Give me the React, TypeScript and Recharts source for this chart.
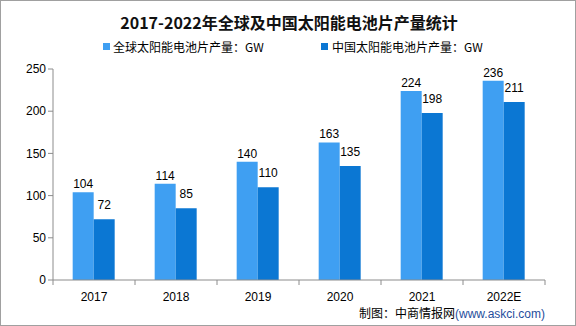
import { Bar, BarChart, LabelList, XAxis, YAxis } from "recharts";

const years = ["2017", "2018", "2019", "2020", "2021", "2022E"];
const globalOutput = [104, 114, 140, 163, 224, 236];
const chinaOutput = [72, 85, 110, 135, 198, 211];
const yTicks = [0, 50, 100, 150, 200, 250];

const data = years.map((year, i) => ({
  year,
  global: globalOutput[i],
  china: chinaOutput[i],
}));

const W = 576;
const H = 326;
const MARGIN = { top: 69, right: 31, left: 0, bottom: 0 };
const Y_AXIS_W = 53;
const BAND = (W - MARGIN.left - MARGIN.right - Y_AXIS_W) / years.length;

const LIGHT = "#3f9ff2";
const DARK = "#0b77d3";
const AXIS = "#8c8c8c";
const NUM_FONT = "'Liberation Sans', Arial, sans-serif";
const CJK_FONT = "'Noto Sans CJK SC', sans-serif";

const YearTick = (props: any) => {
  const { x, y, payload, index } = props;
  return (
    <g>
      <line x1={x - BAND / 2} y1={y} x2={x - BAND / 2} y2={y + 5} stroke={AXIS} />
      {index === years.length - 1 && (
        <line x1={x + BAND / 2} y1={y} x2={x + BAND / 2} y2={y + 5} stroke={AXIS} />
      )}
      <text x={x} y={y + 21} textAnchor="middle" fontSize={12} fill="#000" fontFamily={NUM_FONT}>
        {payload.value}
      </text>
    </g>
  );
};

export default function App() {
  return (
    <div
      style={{
        position: "absolute",
        left: 0,
        top: 0,
        width: W,
        height: H,
        boxSizing: "border-box",
        border: "1px solid #a0a0a0",
        background: "#fff",
        overflow: "hidden",
      }}
    >
      <div
        style={{
          position: "absolute",
          top: 10,
          left: 0,
          width: W,
          textAlign: "center",
          fontFamily: CJK_FONT,
          fontWeight: 700,
          fontSize: 16,
          color: "#111",
          lineHeight: "22px",
        }}
      >
        2017-2022年全球及中国太阳能电池片产量统计
      </div>
      <div
        style={{
          position: "absolute",
          top: 38,
          left: 0,
          width: W,
          fontFamily: CJK_FONT,
          fontSize: 12,
          lineHeight: "16px",
          color: "#000",
        }}
      >
        <span style={{ position: "absolute", left: 102, top: 4, width: 7, height: 7, background: LIGHT }} />
        <span style={{ position: "absolute", left: 112 }}>全球太阳能电池片产量：GW</span>
        <span style={{ position: "absolute", left: 320, top: 4, width: 7, height: 7, background: DARK }} />
        <span style={{ position: "absolute", left: 331 }}>中国太阳能电池片产量：GW</span>
      </div>
      <div style={{ position: "absolute", left: -1, top: -1 }}>
        <BarChart
          width={W}
          height={H}
          data={data}
          margin={MARGIN}
          barCategoryGap="24%"
          barGap={0}
        >
          <XAxis
            dataKey="year"
            height={46}
            stroke={AXIS}
            tickLine={false}
            tickSize={0}
            tickMargin={0}
            tick={<YearTick />}
            interval={0}
          />
          <YAxis
            width={Y_AXIS_W}
            domain={[0, 250]}
            ticks={yTicks}
            stroke={AXIS}
            tickSize={5}
            tick={{ fill: "#000", fontSize: 12, fontFamily: NUM_FONT }}
          />
          <Bar dataKey="global" fill={LIGHT} isAnimationActive={false}>
            <LabelList
              dataKey="global"
              position="top"
              offset={4}
              fill="#000"
              fontSize={12}
              fontFamily={NUM_FONT}
            />
          </Bar>
          <Bar dataKey="china" fill={DARK} isAnimationActive={false}>
            <LabelList
              dataKey="china"
              position="top"
              offset={10}
              fill="#000"
              fontSize={12}
              fontFamily={NUM_FONT}
            />
          </Bar>
        </BarChart>
      </div>
      <div
        style={{
          position: "absolute",
          right: 30,
          top: 304,
          fontSize: 12,
          lineHeight: "16px",
          whiteSpace: "nowrap",
        }}
      >
        <span style={{ fontFamily: CJK_FONT, color: "#000" }}>制图：中商情报网</span>
        <span style={{ fontFamily: NUM_FONT, color: "#1f4e9c" }}>(www.askci.com)</span>
      </div>
    </div>
  );
}
